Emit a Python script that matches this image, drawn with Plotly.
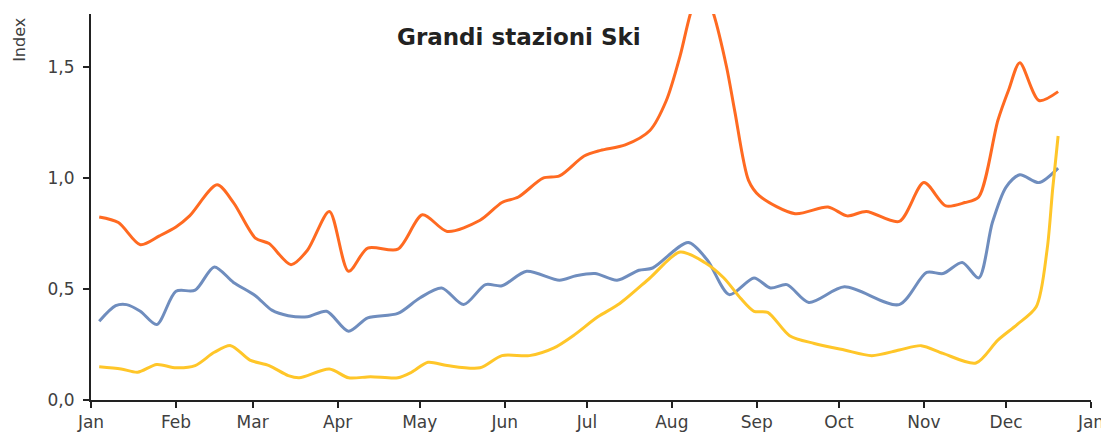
import plotly.graph_objects as go

orange_dates = ["2023-01-04","2023-01-11","2023-01-19","2023-01-26","2023-02-01","2023-02-06","2023-02-16","2023-02-22",
                "2023-03-02","2023-03-07","2023-03-15","2023-03-21","2023-03-29","2023-04-05","2023-04-12","2023-04-23",
                "2023-05-02","2023-05-11","2023-05-23","2023-05-31","2023-06-06","2023-06-15","2023-06-21","2023-06-30",
                "2023-07-06","2023-07-15","2023-07-24","2023-07-30","2023-08-04","2023-08-08","2023-08-12","2023-08-16",
                "2023-08-21","2023-08-24","2023-08-29","2023-09-02","2023-09-15","2023-09-27","2023-10-04","2023-10-11",
                "2023-10-23","2023-11-01","2023-11-09","2023-11-16","2023-11-21","2023-11-28","2023-12-02","2023-12-06",
                "2023-12-13","2023-12-20"]
orange_vals = [0.825,0.80,0.70,0.74,0.78,0.83,0.97,0.89,
               0.73,0.705,0.61,0.675,0.85,0.58,0.685,0.68,
               0.835,0.76,0.81,0.89,0.915,1.00,1.01,1.10,
               1.125,1.15,1.215,1.35,1.55,1.75,1.87,1.75,
               1.50,1.30,0.99,0.92,0.84,0.87,0.83,0.85,
               0.805,0.98,0.875,0.89,0.915,1.26,1.40,1.52,
               1.35,1.39]

blue_dates = ["2023-01-04","2023-01-10","2023-01-14","2023-01-19","2023-01-25","2023-02-01","2023-02-08","2023-02-15",
              "2023-02-22","2023-03-02","2023-03-08","2023-03-14","2023-03-21","2023-03-28","2023-04-05","2023-04-12",
              "2023-04-23","2023-05-01","2023-05-09","2023-05-17","2023-05-25","2023-05-31","2023-06-09","2023-06-21",
              "2023-06-27","2023-07-04","2023-07-12","2023-07-20","2023-07-25","2023-08-07","2023-08-14","2023-08-22",
              "2023-08-31","2023-09-06","2023-09-12","2023-09-20","2023-10-03","2023-10-23","2023-11-02","2023-11-08",
              "2023-11-15","2023-11-21","2023-11-26","2023-12-01","2023-12-06","2023-12-13","2023-12-20"]
blue_vals = [0.355,0.425,0.43,0.40,0.34,0.49,0.495,0.60,
             0.53,0.47,0.405,0.38,0.375,0.40,0.31,0.37,
             0.39,0.46,0.505,0.43,0.52,0.515,0.58,0.54,
             0.56,0.57,0.54,0.585,0.595,0.71,0.63,0.475,
             0.55,0.505,0.52,0.44,0.51,0.43,0.575,0.57,
             0.62,0.55,0.80,0.96,1.015,0.98,1.045]

yellow_dates = ["2023-01-04","2023-01-12","2023-01-18","2023-01-25","2023-02-01","2023-02-08","2023-02-15","2023-02-21",
                "2023-02-28","2023-03-07","2023-03-14","2023-03-18","2023-03-29","2023-04-05","2023-04-13","2023-04-23",
                "2023-04-28","2023-05-04","2023-05-11","2023-05-23","2023-05-31","2023-06-10","2023-06-19","2023-06-26",
                "2023-07-05","2023-07-13","2023-07-24","2023-08-04","2023-08-13","2023-08-20","2023-08-26","2023-08-31",
                "2023-09-05","2023-09-13","2023-09-22","2023-10-03","2023-10-13","2023-10-23","2023-10-31","2023-11-08",
                "2023-11-20","2023-11-28","2023-12-05","2023-12-12","2023-12-16","2023-12-18","2023-12-20"]
yellow_vals = [0.15,0.14,0.125,0.16,0.145,0.155,0.215,0.245,
               0.18,0.155,0.11,0.10,0.14,0.10,0.105,0.10,
               0.125,0.17,0.155,0.145,0.20,0.20,0.235,0.29,
               0.375,0.435,0.55,0.667,0.62,0.55,0.46,0.40,
               0.395,0.29,0.255,0.225,0.20,0.225,0.245,0.21,
               0.167,0.27,0.34,0.42,0.68,0.95,1.19]

y_ticks = [0, 0.5, 1.0, 1.5]
y_ticktext = ["0,0", "0,5", "1,0", "1,5"]

title_text = "Grandi stazioni Ski"
y_label = "Index"

font_family = "DejaVu Sans"
grey = "#404040"

fig = go.Figure()
for d, v, c in [(blue_dates, blue_vals, "#6F8DBE"),
                (yellow_dates, yellow_vals, "#FFC629"),
                (orange_dates, orange_vals, "#FF6A21")]:
    fig.add_trace(go.Scatter(x=d, y=v, mode="lines",
                             line=dict(color=c, width=3, shape="spline", smoothing=0.8),
                             showlegend=False, hoverinfo="skip"))

# page body has an 8px margin; figure sized so plot area lands at x 91-1091, y 14-400
fig.update_layout(
    width=1101, height=428,
    margin=dict(l=83, r=18, t=6, b=36, autoexpand=False),
    paper_bgcolor="white", plot_bgcolor="white",
    font=dict(family=font_family, color=grey, size=17),
)
fig.update_xaxes(
    range=["2023-01-01", "2024-01-01"], dtick="M1", tickformat="%b", automargin=False,
    showgrid=False, zeroline=False, showline=True, linecolor="#222222", linewidth=2,
    ticks="outside", ticklen=6, tickwidth=2, tickcolor="#222222",
    tickfont=dict(size=17, color=grey),
)
fig.update_yaxes(
    range=[0, 1.74], tickvals=y_ticks, ticktext=y_ticktext, automargin=False,
    showgrid=False, zeroline=False, showline=True, linecolor="#222222", linewidth=2,
    ticks="outside", ticklen=6, tickwidth=2, tickcolor="#222222", ticklabelstandoff=5,
    tickfont=dict(size=17, color=grey),
)
fig.add_annotation(text=y_label, xref="paper", yref="paper", x=-0.071, y=0.933,
                   textangle=-90, showarrow=False, font=dict(size=16, color=grey),
                   xanchor="center", yanchor="middle")
fig.add_annotation(text="<b>" + title_text + "</b>", xref="paper", yref="paper",
                   x=0.428, y=0.94, showarrow=False, xanchor="center", yanchor="middle",
                   font=dict(size=23, color="#222222"))

fig.write_html("out.html")
